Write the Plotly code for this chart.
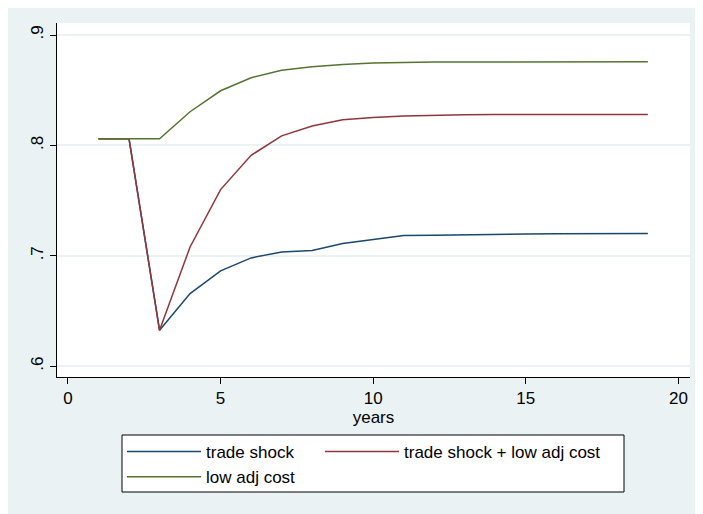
import plotly.graph_objects as go

years = list(range(1, 20))
trade_shock = [0.806, 0.806, 0.6325, 0.6658, 0.6863, 0.6981, 0.7035, 0.7048, 0.7111, 0.7148,
               0.7184, 0.7187, 0.7192, 0.7196, 0.7198, 0.7200, 0.7201, 0.7202, 0.7202]
trade_shock_low_adj = [0.806, 0.806, 0.6325, 0.708, 0.760, 0.791, 0.8087, 0.8175, 0.8232, 0.8254,
                       0.8266, 0.8275, 0.8278, 0.8280, 0.8281, 0.8281, 0.8281, 0.8281, 0.8281]
low_adj_cost = [0.806, 0.806, 0.806, 0.8305, 0.8495, 0.8613, 0.868, 0.8713, 0.8734, 0.8746,
                0.8752, 0.8755, 0.8756, 0.8757, 0.8758, 0.8758, 0.8758, 0.8758, 0.8758]
series_names = ["trade shock", "trade shock + low adj cost", "low adj cost"]
series_colors = ["#1a476f", "#90353b", "#55752f"]
series_legends = ["legend", "legend2", "legend"]
x_ticks = [0, 5, 10, 15, 20]
y_ticks = [0.6, 0.7, 0.8, 0.9]
y_tick_text = [".6", ".7", ".8", ".9"]

# page body has an 8px margin; figure fills the rest of the 703x514 window
OFF = 8
W, H = 703 - OFF, 514 - OFF
ML, MR, MT, MB = 49, 13, 15, 137
PW, PH = W - ML - MR, H - MT - MB

FONT = "Liberation Sans, Arial, sans-serif"
BG = "#EAF2F3"


def rx(p):
    """reference-window pixel x -> paper coordinate"""
    return (p - OFF - ML) / PW


def ry(p):
    """reference-window pixel y -> paper coordinate"""
    return 1 - (p - OFF - MT) / PH


fig = go.Figure()
for name, ys, col, lg in zip(series_names, [trade_shock, trade_shock_low_adj, low_adj_cost],
                             series_colors, series_legends):
    fig.add_trace(go.Scatter(x=years, y=ys, mode="lines", name=name, legend=lg,
                             line=dict(color=col, width=1.5)))

# legend frame
fig.add_shape(type="rect", xref="paper", yref="paper",
              x0=rx(122), x1=rx(624), y0=ry(492), y1=ry(435),
              fillcolor="white", line=dict(color="black", width=1), layer="below")

legend_common = dict(
    orientation="v", xanchor="left", yanchor="top",
    bgcolor="rgba(0,0,0,0)", borderwidth=0,
    font=dict(family=FONT, size=17, color="black"),
    itemwidth=74, tracegroupgap=0,
)

fig.update_layout(
    width=W, height=H,
    margin=dict(l=ML, r=MR, t=MT, b=MB),
    paper_bgcolor=BG,
    plot_bgcolor="white",
    font=dict(family=FONT, size=17, color="black"),
    showlegend=True,
    legend=dict(x=rx(122), y=ry(434), **legend_common),
    legend2=dict(x=rx(320), y=ry(434), **legend_common),
    xaxis=dict(
        range=[-0.36, 20.38],
        tickmode="array", tickvals=x_ticks, ticktext=[str(t) for t in x_ticks],
        ticks="outside", ticklen=6, tickcolor="black", tickwidth=1,
        showline=True, linecolor="black", linewidth=1,
        showgrid=False, zeroline=False,
        title=dict(text="years", font=dict(size=17), standoff=0),
        tickfont=dict(size=17),
    ),
    yaxis=dict(
        range=[0.5902, 0.9109],
        tickmode="array", tickvals=y_ticks, ticktext=y_tick_text,
        ticks="outside", ticklen=6, tickcolor="black", tickwidth=1,
        tickangle=-90,
        showline=True, linecolor="black", linewidth=1,
        showgrid=True, gridcolor=BG, gridwidth=1.5,
        zeroline=False,
        tickfont=dict(size=17),
    ),
)

fig.write_html("out.html")
